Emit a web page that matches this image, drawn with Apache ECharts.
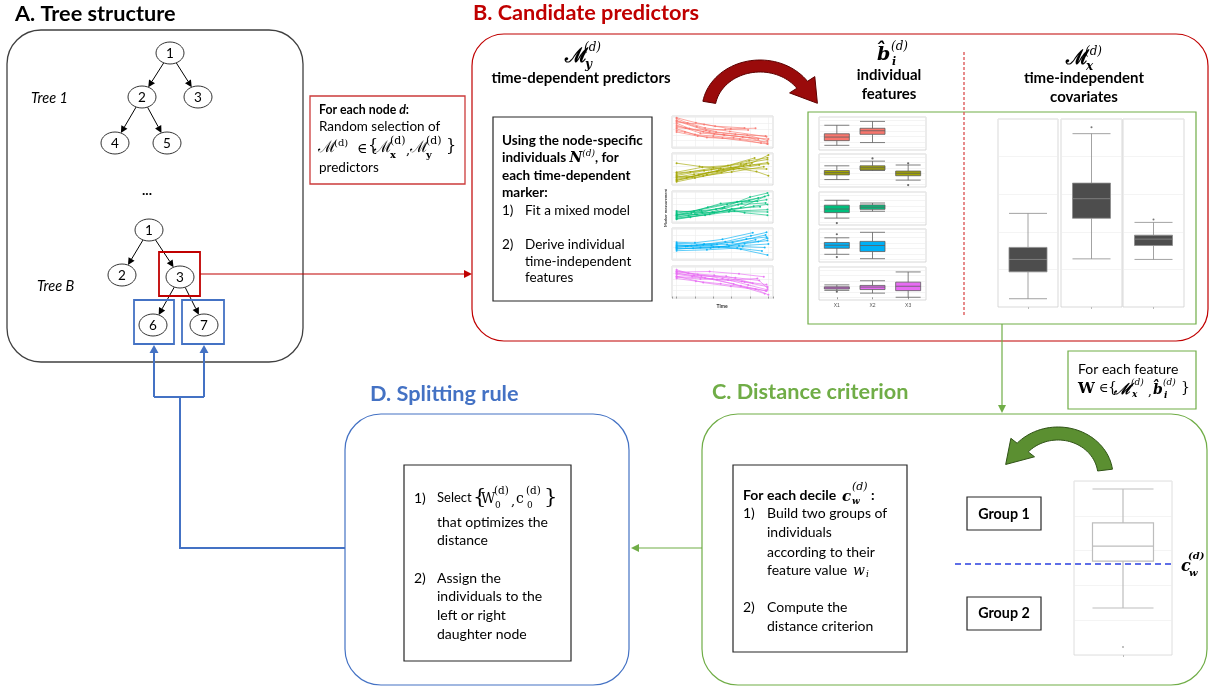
<!DOCTYPE html>
<html><head><meta charset="utf-8">
<script src="https://cdn.jsdelivr.net/npm/echarts@6/dist/echarts.min.js"></script>
<style>html,body{margin:0;padding:0;background:#fff}#c{width:1212px;height:688px}</style>
</head><body><div id="c"></div>
<script>
// ---------------- DATA ----------------
// Time-dependent marker trajectories: [time, measurement] per individual
const trajRed = [
 [[0,9.6],[1.2,8.1],[3.1,6.4],[5.8,5.2],[9.8,3.4]],
 [[0,9.0],[2.2,6.8],[4.3,5.0],[7.7,3.9],[9.9,2.1]],
 [[0,8.4],[3.0,7.6],[5.9,6.1],[8.6,6.3]],
 [[0,8.0],[1.4,6.2],[2.9,5.1],[5.2,4.0],[7.9,3.1],[9.9,1.0]],
 [[0,7.4],[2.6,4.6],[5.1,4.1],[8.9,2.6]],
 [[0,7.0],[1.0,6.4],[4.1,4.3],[7.2,3.3],[10,2.6]],
 [[0,6.5],[3.2,5.6],[5.3,5.9],[7.8,5.7]],
 [[0,6.1],[2.0,4.1],[4.0,3.6],[6.2,3.0],[9.9,1.6]],
 [[0,5.5],[0.9,5.0],[3.3,3.1],[6.9,2.5],[9.2,1.2]],
 [[0,9.9],[2.1,8.2],[4.2,7.0],[7.4,6.4]],
 [[0,5.0],[2.3,3.6],[5.0,2.9],[9.9,0.9]],
 [[0,8.8],[3.6,5.1],[6.4,4.2],[9.7,3.6]]
];
const trajOlive = [
 [[0,1.0],[2.4,3.0],[5.1,4.9],[8.2,7.1],[10,9.8]],
 [[0,2.2],[1.9,3.2],[4.4,4.1],[7.3,6.0],[9.9,7.2]],
 [[0,3.9],[2.8,5.6],[5.6,6.2],[8.5,8.8]],
 [[0,1.5],[1.1,2.0],[3.5,3.8],[6.8,5.2],[9.8,5.0]],
 [[0,2.8],[3.0,4.4],[5.9,5.6],[8.7,4.1],[10,2.7]],
 [[0,0.6],[2.0,1.9],[4.9,3.8],[7.6,6.8]],
 [[0,3.2],[1.5,4.0],[4.0,5.4],[7.0,6.7],[9.9,8.3]],
 [[0,7.0],[2.5,5.9],[4.8,5.1]],
 [[0,1.9],[3.3,3.1],[6.2,4.8],[9.0,6.4]],
 [[0,2.5],[1.7,2.3],[4.6,4.6],[8.0,6.3],[10,6.8]],
 [[0,1.2],[2.9,2.6],[6.0,4.0],[9.5,5.8]],
 [[0,3.6],[3.8,4.8],[7.9,7.8],[9.9,8.9]]
];
const trajGreen = [
 [[0,1.5],[2.0,2.6],[5.2,5.0],[8.0,8.4],[9.9,9.8]],
 [[0,2.4],[1.6,2.9],[4.3,4.2],[7.1,6.3],[9.8,7.5]],
 [[0,1.0],[3.1,2.2],[6.3,3.6],[9.9,4.1]],
 [[0,2.9],[2.5,4.0],[5.5,5.9],[8.9,8.1]],
 [[0,1.8],[1.3,2.0],[3.9,3.3],[6.7,5.8],[9.7,6.4]],
 [[0,2.0],[2.7,3.7],[5.0,4.6],[7.4,3.0],[9.9,2.2]],
 [[0,3.3],[1.9,3.5],[4.8,6.2],[7.9,7.2],[10,9.0]],
 [[0,1.2],[3.6,2.5],[6.0,4.4],[9.1,5.1]],
 [[0,2.6],[2.2,2.4],[5.8,3.9],[8.4,5.3],[9.9,5.9]],
 [[0,0.8],[1.5,1.5],[4.1,3.0],[7.0,4.8],[9.6,8.6]],
 [[0,2.2],[3.4,4.9],[6.6,6.8],[8.8,7.0]],
 [[0,3.6],[2.8,3.1],[5.7,3.4],[9.9,3.3]]
];
const trajBlue = [
 [[0,4.5],[2.2,4.6],[5.3,5.8],[8.1,7.8],[9.8,9.0]],
 [[0,3.6],[1.8,3.5],[4.6,3.9],[7.4,5.1],[9.9,6.2]],
 [[0,5.2],[3.0,5.0],[6.1,5.5],[9.7,8.1]],
 [[0,4.0],[1.2,4.2],[3.8,4.5],[7.0,3.2],[9.9,1.2]],
 [[0,3.2],[2.6,3.8],[5.7,4.3],[8.6,6.5]],
 [[0,4.8],[1.6,4.4],[4.4,4.9],[7.6,6.7],[9.8,7.4]],
 [[0,2.7],[3.3,3.0],[6.6,3.6],[9.3,2.6]],
 [[0,5.6],[2.0,5.4],[5.0,6.6],[8.3,8.9]],
 [[0,3.9],[1.0,4.1],[4.0,4.0],[6.8,4.4],[10,5.0]],
 [[0,4.3],[2.9,4.7],[5.5,4.8],[8.9,5.9],[9.9,7.0]],
 [[0,3.4],[3.7,3.6],[7.2,4.1],[9.6,3.8]]
];
const trajMagenta = [
 [[0,8.8],[2.3,7.6],[5.0,6.2],[7.8,4.0],[9.9,2.3]],
 [[0,7.6],[1.7,6.9],[4.4,5.9],[7.1,5.2],[9.8,4.1]],
 [[0,8.1],[3.1,6.4],[6.2,4.3],[9.6,1.0]],
 [[0,6.6],[2.6,6.0],[5.6,5.7],[8.8,6.2]],
 [[0,9.2],[1.3,8.0],[4.1,7.3],[7.4,5.0],[9.9,3.4]],
 [[0,7.0],[2.9,4.8],[5.9,3.5],[8.6,2.5],[10,0.6]],
 [[0,8.4],[3.6,8.6],[6.8,7.8],[9.5,6.8]],
 [[0,6.2],[2.1,5.3],[4.8,4.4],[7.7,3.1],[9.8,1.9]],
 [[0,7.9],[1.9,7.2],[5.4,7.0],[8.3,4.6]],
 [[0,8.6],[2.7,7.1],[6.4,6.5],[9.0,5.5],[9.9,2.9]],
 [[0,6.9],[3.9,6.1],[7.0,3.7],[9.7,2.0]]
];
// Individual features (random effects) boxplots: [min, Q1, median, Q3, max]
const featureCategories = ['X1','X2','X3'];
const featRed     = [[0.7,2.4,3.7,4.9,8.0],[1.7,4.7,6.0,6.9,9.4]];
const featOlive   = [[1.7,3.4,4.2,5.0,6.7],[5.0,5.2,6.0,6.7,8.4],[1.5,3.1,4.0,4.8,7.0]];
const featGreen   = [[1.5,3.5,4.8,6.2,8.0],[4.0,4.7,5.5,6.3,7.0]];
const featBlue    = [[1.8,4.0,5.1,6.1,7.8],[0.2,2.8,5.0,6.5,9.8]];
const featMagenta = [[2.5,3.0,3.4,3.8,4.5],[1.5,2.8,3.7,4.3,6.0],[0.0,2.4,4.0,5.5,9.2]];
const featRedOut = [];
const featOliveOut = [[1,9.4],[2,7.6],[2,-0.3]];
const featGreenOut = [[0,-0.3]];
const featBlueOut = [[0,9.1],[0,0.8]];
const featMagentaOut = [[0,2.0]];
// Time-independent covariates
const covariateBoxes = [[4.4,18.7,25.3,31.7,49.8],[25.6,47.2,57.6,65.9,92.2],[25.3,32.7,36.1,38.2,45.0]];
const covariateOutliers = [[], [95.6], [46.6]];
// Distance criterion: feature distribution and decile threshold
const splitBox = [27.0,54.0,62.6,75.9,95.4];
const splitOutliers = [4.6];
const splitThreshold = 52.3;

// ---------------- STYLE ----------------
const SANS = 'Lato, "Open Sans", sans-serif';
const SERIF = '"DejaVu Serif", "Liberation Serif", serif';
const RED = '#c00000', GREEN = '#70ad47', BLUE = '#4472c4', DARK = '#262626';
const markerColors = ['#F8766D','#A3A500','#00BF7D','#00B0F6','#E76BF3'];
const markerTrajectories = [trajRed, trajOlive, trajGreen, trajBlue, trajMagenta];
const featureBoxes = [featRed, featOlive, featGreen, featBlue, featMagenta];
const featureOutliers = [featRedOut, featOliveOut, featGreenOut, featBlueOut, featMagentaOut];

const chart = echarts.init(document.getElementById('c'), null, {renderer:'canvas'});
const grids = [], xAxes = [], yAxes = [], series = [];
const lightSplit = {show:true, lineStyle:{color:'#ececec', width:0.6}};
function hiddenVal(gi, min, max, ticks){
  return {type:'value', gridIndex:gi, min, max, axisLine:{show:false},
    axisTick:{show:!!ticks, length:2, lineStyle:{color:'#999'}}, axisLabel:{show:false}, splitLine:lightSplit};
}
// spaghetti panels
const spagTop = [116,153,191,228,266];
spagTop.forEach((t,i)=>{
  grids.push({left:672, top:t, width:101, height:32, show:true, borderColor:'#cfcfcf', borderWidth:0.8, backgroundColor:'#fff'});
  xAxes.push(hiddenVal(i,-0.5,10.5,i===4));
  yAxes.push(hiddenVal(i,-0.5,10.5,false));
  markerTrajectories[i].forEach(tr=>series.push({type:'line', xAxisIndex:i, yAxisIndex:i, data:tr,
    symbol:'circle', symbolSize:2, silent:true,
    lineStyle:{width:0.9, color:markerColors[i], opacity:0.7}, itemStyle:{color:markerColors[i], opacity:0.85}}));
});
// individual feature panels
const featTop = [117,154,192,229,267];
featTop.forEach((t,k)=>{
  const gi = 5+k;
  grids.push({left:819, top:t, width:107, height:33, show:true, borderColor:'#cfcfcf', borderWidth:0.8, backgroundColor:'#fff'});
  xAxes.push({type:'category', gridIndex:gi, data:featureCategories, axisLine:{show:false},
    axisTick:{show:k===4, length:2, alignWithLabel:true, lineStyle:{color:'#999'}},
    axisLabel:{show:k===4, fontSize:5, color:'#555', margin:3}, splitLine:{show:false}});
  yAxes.push(hiddenVal(gi,-1,11,false));
  series.push({type:'boxplot', xAxisIndex:gi, yAxisIndex:gi, data:featureBoxes[k], boxWidth:[25,25], silent:true,
    itemStyle:{color:markerColors[k], borderColor:'#5e5e5e', borderWidth:0.8}});
  series.push({type:'scatter', xAxisIndex:gi, yAxisIndex:gi, data:featureOutliers[k], symbolSize:2.2, silent:true, itemStyle:{color:'#444'}});
});
// covariate panels
const covLeft = [998,1061,1123], covW = [60,61,61];
covLeft.forEach((l,j)=>{
  const gi = 10+j;
  grids.push({left:l, top:119, width:covW[j], height:188, show:true, borderColor:'#cfcfcf', borderWidth:0.8, backgroundColor:'#fff'});
  xAxes.push({type:'category', gridIndex:gi, data:[''], axisLine:{show:false},
    axisTick:{show:true, length:2, alignWithLabel:true, lineStyle:{color:'#bbb'}}, axisLabel:{show:false}, splitLine:{show:false}});
  yAxes.push(hiddenVal(gi,0,100,false));
  series.push({type:'boxplot', xAxisIndex:gi, yAxisIndex:gi, data:[covariateBoxes[j]], boxWidth:[38,38], silent:true,
    itemStyle:{color:'#4d4d4d', borderColor:'#8c8c8c', borderWidth:0.8}});
  series.push({type:'scatter', xAxisIndex:gi, yAxisIndex:gi, data:covariateOutliers[j].map(v=>[0,v]), symbolSize:2, silent:true, itemStyle:{color:'#555'}});
});
// distance criterion panel
grids.push({left:1074, top:481, width:98, height:174, show:true, borderColor:'#d6d6d6', borderWidth:0.8, backgroundColor:'#fff'});
xAxes.push({type:'category', gridIndex:13, data:[''], axisLine:{show:false},
  axisTick:{show:true, length:2, alignWithLabel:true, lineStyle:{color:'#bbb'}}, axisLabel:{show:false}, splitLine:{show:false}});
yAxes.push(hiddenVal(13,0,100,false));
series.push({type:'boxplot', xAxisIndex:13, yAxisIndex:13, data:[splitBox], boxWidth:[61,61], silent:true,
  itemStyle:{color:'#fff', borderColor:'#bdbdbd', borderWidth:1.2}});
series.push({type:'scatter', xAxisIndex:13, yAxisIndex:13, data:splitOutliers.map(v=>[0,v]), symbolSize:2, silent:true, itemStyle:{color:'#999'}});

chart.setOption({animation:false, grid:grids, xAxis:xAxes, yAxis:yAxes, series});

// ---------------- DIAGRAM GRAPHICS ----------------
const G = [];
function T(x,y,text,font,fill,align,extra){
  const a = align||'left';
  const e = {type:'text', x, y, z:20, silent:true,
    style:Object.assign({text, font, fill:fill||'#000', textAlign:a, align:a, textVerticalAlign:'middle', verticalAlign:'middle'}, extra||{})};
  G.push(e); return e;
}
function R(x,y,w,h,stroke,lw,r,fill){
  G.push({type:'rect', z:10, silent:true, shape:{x,y,width:w,height:h,r:r||0}, style:{fill:fill||'none', stroke, lineWidth:lw}});
}
function L(x1,y1,x2,y2,stroke,lw,dash){
  G.push({type:'line', z:10, silent:true, shape:{x1,y1,x2,y2}, style:{stroke, lineWidth:lw, lineDash:dash||null}});
}
function arrowLine(x1,y1,x2,y2,color,lw,hl,hw){
  const dx=x2-x1, dy=y2-y1, len=Math.hypot(dx,dy), ux=dx/len, uy=dy/len;
  const bx=x2-ux*hl, by=y2-uy*hl;
  L(x1,y1,bx,by,color,lw);
  G.push({type:'polygon', z:11, silent:true, shape:{points:[[x2,y2],[bx-uy*hw,by+ux*hw],[bx+uy*hw,by-ux*hw]]}, style:{fill:color}});
}
function curvedArrow(cx,cy,rxO,ryO,rxI,ryI,a0,a1,hl,hw,fill,stroke){
  const d2r=Math.PI/180; a0*=d2r; a1*=d2r;
  const P=(rx,ry,a)=>[cx+rx*Math.cos(a), cy-ry*Math.sin(a)];
  const pts=[], N=40;
  for(let i=0;i<=N;i++){pts.push(P(rxO,ryO,a0+(a1-a0)*i/N));}
  const o=P(rxO,ryO,a1), inn=P(rxI,ryI,a1);
  const m=[(o[0]+inn[0])/2,(o[1]+inn[1])/2];
  let nx=o[0]-inn[0], ny=o[1]-inn[1]; const nl=Math.hypot(nx,ny); nx/=nl; ny/=nl;
  const rxm=(rxO+rxI)/2, rym=(ryO+ryI)/2, s=Math.sign(a1-a0);
  let tx=-rxm*Math.sin(a1)*s, ty=-rym*Math.cos(a1)*s; const tl=Math.hypot(tx,ty); tx/=tl; ty/=tl;
  pts.push([m[0]+nx*hw, m[1]+ny*hw]);
  pts.push([m[0]+tx*hl, m[1]+ty*hl]);
  pts.push([m[0]-nx*hw, m[1]-ny*hw]);
  for(let i=N;i>=0;i--){pts.push(P(rxI,ryI,a0+(a1-a0)*i/N));}
  G.push({type:'polygon', z:12, silent:true, shape:{points:pts}, style:{fill, stroke, lineWidth:1}});
}
const RX=14, RY=11;
function node(c,label){
  G.push({type:'ellipse', z:12, silent:true, shape:{cx:c[0],cy:c[1],rx:RX,ry:RY}, style:{fill:'#fff', stroke:'#333', lineWidth:1}});
  T(c[0],c[1]+0.5,label,`13.5px ${SANS}`,'#000','center');
}
function edge(p,c){
  const dx=c[0]-p[0], dy=c[1]-p[1], len=Math.hypot(dx,dy), ux=dx/len, uy=dy/len;
  const t=1/Math.sqrt((ux/RX)**2+(uy/RY)**2);
  arrowLine(p[0]+ux*t,p[1]+uy*t,c[0]-ux*t,c[1]-uy*t,'#000',1,7,3.5);
}
const TITLE = `bold 21.7px ${SANS}`;
const REG135 = `13.5px ${SANS}`, BOLD135 = `bold 13.5px ${SANS}`, REG14 = `14px ${SANS}`, HEAD = `bold 15px ${SANS}`;

// Panel A
T(15,14,'A. Tree structure',TITLE);
R(7,30,296,332,'#404040',1.3,34);
const t1 = {n1:[170,53], n2:[142,97], n3:[198,97], n4:[115,143], n5:[167,143]};
edge(t1.n1,t1.n2); edge(t1.n1,t1.n3); edge(t1.n2,t1.n4); edge(t1.n2,t1.n5);
node(t1.n1,'1'); node(t1.n2,'2'); node(t1.n3,'3'); node(t1.n4,'4'); node(t1.n5,'5');
T(31,98,'Tree 1',`italic 14.5px ${SANS}`);
T(147,190,'...',`bold 14px ${SANS}`,'#000','center');
const tb = {n1:[149,230], n2:[122,275], n3:[180,277], n6:[153,325], n7:[204,325]};
edge(tb.n1,tb.n2); edge(tb.n1,tb.n3); edge(tb.n3,tb.n6); edge(tb.n3,tb.n7);
node(tb.n1,'1'); node(tb.n2,'2'); node(tb.n3,'3'); node(tb.n6,'6'); node(tb.n7,'7');
T(37,286,'Tree B',`italic 14.5px ${SANS}`);
R(159,252,41,44,RED,1.8);
R(134,300,40,44,BLUE,1.8);
R(182,300,42,44,BLUE,1.8);

// red info box
R(310,96,155,88,'#cc3b3b',1.3);
T(319,110,'{b|For each node }{bi|d}{b|:}',`bold 12.3px ${SANS}`,'#000','left',
  {rich:{b:{font:`bold 12.3px ${SANS}`}, bi:{font:`bold italic 12.3px ${SANS}`}}});
T(319,127,'Random selection of',REG135);
T(318,148,'ℳ',`16px ${SERIF}`);
T(334,143,'(d)',`10px ${SERIF}`);
T(357,149,'∈',`14px ${SERIF}`);
T(368,147,'{',`16px ${SERIF}`);
T(374,148,'ℳ',`16px ${SERIF}`);
T(390,141,'(d)',`11px ${SERIF}`);
T(390,155,'x',`bold 10px ${SERIF}`);
T(406,151,',',`13px ${SERIF}`);
T(410,148,'ℳ',`16px ${SERIF}`);
T(426,141,'(d)',`11px ${SERIF}`);
T(426,155,'y',`bold 10px ${SERIF}`);
T(446,147,'}',`16px ${SERIF}`);
T(319,168,'predictors',REG135);

// Panel B
T(473,13,'B. Candidate predictors',TITLE,RED);
R(472,34,736,307,RED,1.2,32);
T(565,57,'ℳ',`bold 20px ${SERIF}`);
T(584,48,'(d)',`italic 12px ${SERIF}`);
T(585,65,'y',`bold italic 12px ${SERIF}`);
T(581,78,'time-dependent predictors',HEAD,'#000','center');
R(493,117,159,184,DARK,1.2);
T(502,141,'Using the node-specific',BOLD135);
T(502,158,'{b|individuals }{n|N}{s|(d)}{b|, for}',BOLD135,'#000','left',
  {rich:{b:{font:BOLD135, lineHeight:18}, n:{font:`bold italic 14px ${SERIF}`, lineHeight:18},
   s:{font:`italic 9px ${SERIF}`, verticalAlign:'top', lineHeight:18}}});
T(502,176,'each time-dependent',BOLD135);
T(502,193,'marker:',BOLD135);
T(502,211,'1)',REG135); T(525,211,'Fit a mixed model',REG135);
T(502,245,'2)',REG135); T(525,245,'Derive individual',REG135);
T(525,262,'time-independent',REG135); T(525,278,'features',REG135);
T(666,208,'Marker measurement',`bold 4px ${SANS}`,'#333','center'); G[G.length-1].rotation=Math.PI/2;
T(722,306,'Time',`bold 5px ${SANS}`,'#333','center');
curvedArrow(760,110,58,50,45,38,170,35,24,15,'#9a0b0b','#5c0000');
T(877,55,'b̂',`bold italic 19px ${SERIF}`);
T(891,47,'(d)',`italic 12px ${SERIF}`);
T(892,62,'i',`bold italic 11px ${SERIF}`);
T(889,75,'individual',HEAD,'#000','center');
T(889,94,'features',HEAD,'#000','center');
R(808,112,388,212,GREEN,1.2);
L(964,52,964,316,'#e06666',1.5,[3,2]);
T(1066,59,'ℳ',`bold 20px ${SERIF}`);
T(1085,52,'(d)',`italic 12px ${SERIF}`);
T(1086,67,'x',`bold italic 12px ${SERIF}`);
T(1084,78,'time-independent',HEAD,'#000','center');
T(1084,97,'covariates',HEAD,'#000','center');

// connectors
arrowLine(200,274,472,274,RED,1.2,8,4);
arrowLine(1002,324,1002,413,GREEN,1.2,8,4);
arrowLine(702,548,631,548,GREEN,1.2,8,4);
G.push({type:'polyline', z:10, silent:true, shape:{points:[[345,548],[180,548],[180,397]]}, style:{stroke:BLUE, lineWidth:2, fill:'none'}});
L(154,397,204,397,BLUE,2);
arrowLine(154,397,154,345,BLUE,2,8,4.5);
arrowLine(204,397,204,345,BLUE,2,8,4.5);

// Panel C
T(712,392,'C. Distance criterion',TITLE,GREEN);
R(702,414,505,271,GREEN,1.2,36);
R(1068,351,128,58,GREEN,1.2);
T(1078,369,'For each feature',REG14);
T(1078,389,'W',`bold 15px ${SERIF}`);
T(1099,389,'∈',`13px ${SERIF}`);
T(1108,388,'{',`14px ${SERIF}`);
T(1114,390,'ℳ',`bold italic 15px ${SERIF}`);
T(1131,383,'(d)',`italic 9px ${SERIF}`);
T(1132,395,'x',`bold italic 9px ${SERIF}`);
T(1148,392,',',`12px ${SERIF}`);
T(1153,390,'b̂',`bold italic 14px ${SERIF}`);
T(1163,383,'(d)',`italic 9px ${SERIF}`);
T(1164,396,'i',`bold italic 9px ${SERIF}`);
T(1181,388,'}',`14px ${SERIF}`);
R(733,465,174,187,DARK,1.2);
T(743,495,'For each decile',`bold 14px ${SANS}`);
T(842,497,'c',`bold italic 15px ${SERIF}`);
T(852,487,'(d)',`italic 11px ${SERIF}`);
T(852,502,'w',`bold italic 9px ${SERIF}`);
T(871,495,':',`bold 14px ${SANS}`);
T(743,513,'1)',REG14); T(767,513,'Build two groups of',REG14);
T(767,532,'individuals',REG14);
T(767,552,'according to their',REG14);
T(767,570,'feature value',REG14);
T(853,571,'w',`italic 14px ${SERIF}`); T(866,575,'i',`italic 9px ${SERIF}`);
T(743,607,'2)',REG14); T(767,607,'Compute the',REG14);
T(767,626,'distance criterion',REG14);
R(967,497,74,33,DARK,1.2); T(1004,514,'Group 1',`bold 14.3px ${SANS}`,'#000','center');
R(967,597,74,33,DARK,1.2); T(1004,613,'Group 2',`bold 14.3px ${SANS}`,'#000','center');
curvedArrow(1058,476,55,49,40,36,8,138,24,15,'#5b8f31','#2f5216');
const cy = chart.convertToPixel({gridIndex:13}, [0, splitThreshold])[1];
L(955,cy,1172,cy,'#2a3fe0',1.6,[6,4]);
T(1181,cy+3,'c',`bold italic 16px ${SERIF}`);
T(1188,cy-8,'(d)',`bold italic 10px ${SERIF}`);
T(1189,cy+9,'w',`bold italic 10px ${SERIF}`);

// Panel D
T(370,394,'D. Splitting rule',TITLE,BLUE);
R(345,414,284,271,BLUE,1.2,36);
R(404,465,167,196,DARK,1.2);
T(414,498,'1)',REG14); T(437,498,'Select',`13px ${SANS}`);
T(473,498,'{',`21px ${SERIF}`);
T(481,499,'W',`14px ${SERIF}`);
T(494,491,'(d)',`10.5px ${SERIF}`);
T(495,506,'0',`9px ${SERIF}`);
T(511,502,',',`13px ${SERIF}`);
T(516,499,'c',`14px ${SERIF}`);
T(526,491,'(d)',`10.5px ${SERIF}`);
T(527,506,'0',`9px ${SERIF}`);
T(544,498,'}',`21px ${SERIF}`);
T(437,522,'that optimizes the',REG14);
T(437,540,'distance',REG14);
T(414,578,'2)',REG14); T(437,578,'Assign the',REG14);
T(437,596,'individuals to the',REG14);
T(437,615,'left or right',REG14);
T(437,634,'daughter node',REG14);

chart.setOption({graphic:{elements:G}});
</script></body></html>
